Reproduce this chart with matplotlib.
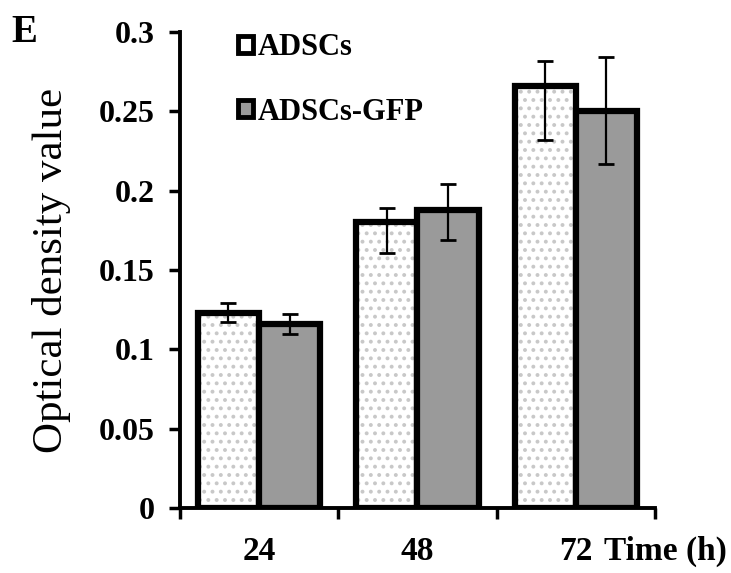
import numpy as np
import matplotlib
matplotlib.use("Agg")
import matplotlib.pyplot as plt
from matplotlib.patches import Patch

# data
times = ['24', '48', '72']
adscs = [0.123, 0.180, 0.266]
adscs_err_lo = [0.006, 0.019, 0.034]
adscs_err_hi = [0.006, 0.009, 0.016]
gfp = [0.116, 0.188, 0.250]
gfp_err_lo = [0.006, 0.019, 0.033]
gfp_err_hi = [0.006, 0.016, 0.034]

plt.rcParams['font.family'] = ['Liberation Serif', 'DejaVu Serif']
plt.rcParams['hatch.linewidth'] = 1.6

fig = plt.figure(figsize=(7.31, 5.73), dpi=100)
ax = fig.add_axes([0.246, 0.1134, 0.65, 0.8306])

x = np.arange(len(times))
w = 0.386
gray = '#9a9a9a'

# ADSCs: white with grey dots, thick black outline
ax.bar(x - w / 2, adscs, w, color='white', edgecolor='#c8c8c8', hatch='..', linewidth=0, zorder=2)
ax.bar(x - w / 2, adscs, w, color='none', edgecolor='black', linewidth=4.5, zorder=3)
ax.bar(x + w / 2, gfp, w, color=gray, edgecolor='black', linewidth=4.5, zorder=3)

ax.errorbar(x - w / 2, adscs, yerr=[adscs_err_lo, adscs_err_hi], fmt='none',
            ecolor='black', elinewidth=1.6, capsize=5.5, capthick=2, zorder=4)
ax.errorbar(x + w / 2, gfp, yerr=[gfp_err_lo, gfp_err_hi], fmt='none',
            ecolor='black', elinewidth=1.6, capsize=5.5, capthick=2, zorder=4)

ax.set_xlim(-0.5, 2.5)
ax.set_ylim(0, 0.3)
ax.set_yticks([0, 0.05, 0.1, 0.15, 0.2, 0.25, 0.3])
ax.set_yticklabels(['0', '0.05', '0.1', '0.15', '0.2', '0.25', '0.3'],
                   fontsize=23, fontweight='bold')
ax.set_xticks(x)
ax.set_xticklabels(times, fontsize=24, fontweight='bold')
ax.set_xticks([-0.5, 0.5, 1.5, 2.5], minor=True)
ax.tick_params(axis='x', which='major', length=0, pad=20)
ax.tick_params(axis='x', which='minor', length=8, width=2.5, direction='out')
ax.tick_params(axis='y', length=8, width=2.5, direction='out', pad=10)

for s in ['top', 'right']:
    ax.spines[s].set_visible(False)
for s in ['left', 'bottom']:
    ax.spines[s].set_linewidth(2.8)

ax.set_ylabel('Optical density value', fontsize=31, labelpad=20)
ax.text(1.151, -0.059, 'Time (h)', transform=ax.transAxes, fontsize=24,
        fontweight='bold', ha='right', va='top')
fig.text(0.015, 0.975, 'E', fontsize=28, fontweight='bold', va='top')

handles = [Patch(facecolor='white', edgecolor='black', linewidth=3.5),
           Patch(facecolor=gray, edgecolor='black', linewidth=3.5)]
ax.legend(handles, ['ADSCs', 'ADSCs-GFP'], loc='upper left', bbox_to_anchor=(0.065, 1.055),
          frameon=False, handlelength=0.5, handleheight=0.5, handletextpad=0.15,
          labelspacing=1.15, prop={'size': 22, 'weight': 'bold'})

fig.savefig('out.png', dpi=100)
